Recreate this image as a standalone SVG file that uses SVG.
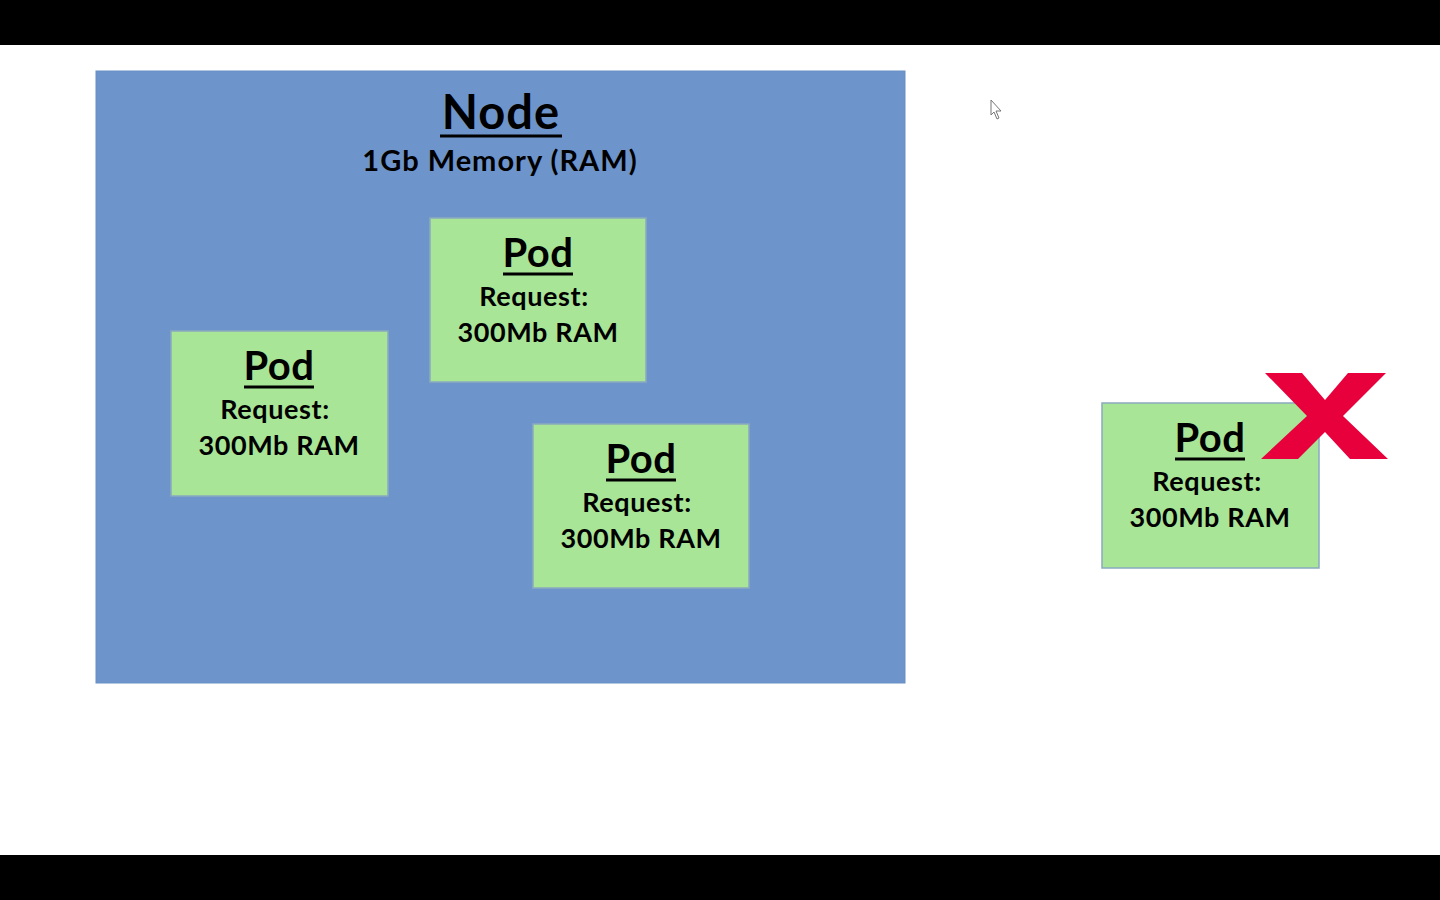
<svg xmlns="http://www.w3.org/2000/svg" width="1440" height="900" viewBox="0 0 1440 900">
<style>
.t{font-family:Lato,"Liberation Sans",sans-serif;font-weight:bold;fill:#000;text-anchor:middle}
.pod{fill:#A9E596;stroke:#8BA9BF;stroke-width:1.5}
.h{font-size:40px;letter-spacing:0.5px}
.s{font-size:27px;letter-spacing:0.6px}
.ul{stroke:#000;stroke-width:3}
</style>
<rect x="0" y="0" width="1440" height="900" fill="#fff"/>
<rect x="0" y="0" width="1440" height="45" fill="#000"/>
<rect x="0" y="855" width="1440" height="45" fill="#000"/>
<g id="node">
<rect x="96" y="71" width="809" height="612" fill="#6D95CC" stroke="#6A8FC4" stroke-width="1"/>
<text class="t" x="501" y="129" font-size="47" letter-spacing="1">Node</text>
<line class="ul" x1="440" y1="136" x2="562" y2="136"/>
<text class="t" x="500" y="171" font-size="29" letter-spacing="1">1Gb Memory (RAM)</text>
</g>
<g id="pod1">
<rect class="pod" x="171" y="331" width="217" height="165"/>
<text class="t h" x="279" y="380">Pod</text>
<line class="ul" x1="244" y1="387" x2="314" y2="387"/>
<text class="t s" x="275" y="419">Request:</text>
<text class="t s" x="279" y="455">300Mb RAM</text>
</g>
<g id="pod2">
<rect class="pod" x="430" y="218" width="216" height="164"/>
<text class="t h" x="538" y="267">Pod</text>
<line class="ul" x1="503" y1="274" x2="573" y2="274"/>
<text class="t s" x="534" y="306">Request:</text>
<text class="t s" x="538" y="342">300Mb RAM</text>
</g>
<g id="pod3">
<rect class="pod" x="533" y="424" width="216" height="164"/>
<text class="t h" x="641" y="473">Pod</text>
<line class="ul" x1="606" y1="480" x2="676" y2="480"/>
<text class="t s" x="637" y="512">Request:</text>
<text class="t s" x="641" y="548">300Mb RAM</text>
</g>
<g id="pod4">
<rect class="pod" x="1102" y="403" width="217" height="165"/>
<text class="t h" x="1210" y="452">Pod</text>
<line class="ul" x1="1175" y1="459" x2="1245" y2="459"/>
<text class="t s" x="1207" y="491">Request:</text>
<text class="t s" x="1210" y="527">300Mb RAM</text>
</g>
<g id="reject-mark">
<polygon fill="#E8003D" points="1265,373 1302,373 1325,400 1348,373 1386,373 1343,416 1388,459 1350,459 1325,432 1298,459 1261,459 1307,416"/>
</g>
<g id="connectors"></g>
<g id="cursor">
<polygon points="991,100 991,115 994,112 997,119 999,118 996,111 1001,111" fill="#fff" stroke="#777" stroke-width="1"/>
</g>
</svg>
